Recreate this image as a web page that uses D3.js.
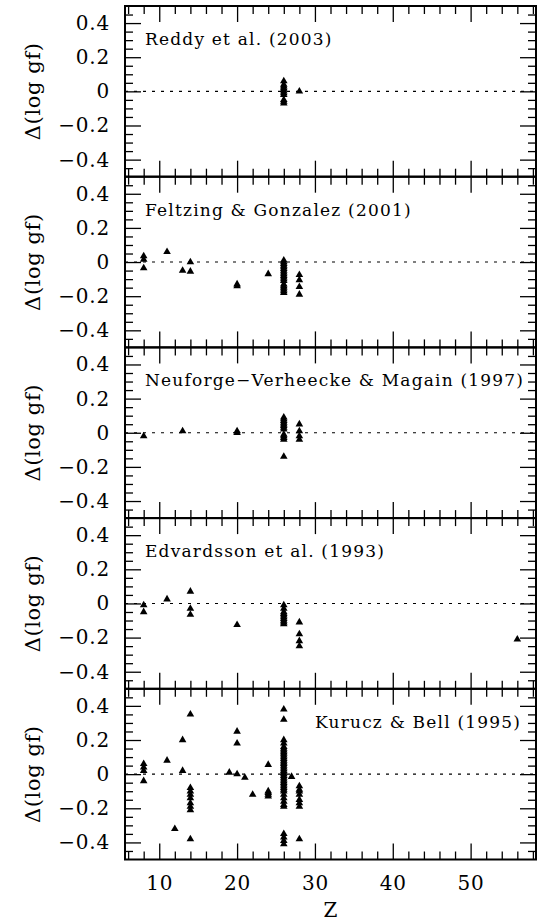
<!DOCTYPE html>
<html>
<head>
<meta charset="utf-8">
<script src="https://cdn.jsdelivr.net/npm/d3@7"></script>
<style>
  body { margin: 0; background: #fff; }
  text { font-family: "DejaVu Serif", serif; fill: #000; }
</style>
</head>
<body>
<div id="chart"></div>
<script>
// panel titles, top to bottom
const panelTitles = [
  'Reddy et al. (2003)',
  'Feltzing & Gonzalez (2001)',
  'Neuforge\u2212Verheecke & Magain (1997)',
  'Edvardsson et al. (1993)',
  'Kurucz & Bell (1995)'
];

// each panel: [Z, [delta log gf values]]
const reddy = [
  [26, [0.06, 0.04, 0.03, 0.02, 0.01, 0, -0.01, -0.02, -0.05, -0.06, -0.07]],
  [28, [0.0]]
];
const feltzing = [
  [8, [0.035, 0.015, -0.035]],
  [11, [0.06]],
  [13, [-0.05]],
  [14, [0.0, -0.055]],
  [20, [-0.13, -0.14]],
  [24, [-0.07]],
  [26, [0.01, 0, -0.01, -0.02, -0.03, -0.04, -0.05, -0.06, -0.07, -0.08, -0.09, -0.1, -0.11, -0.13, -0.14, -0.15, -0.16, -0.17, -0.18]],
  [28, [-0.075, -0.105, -0.145, -0.19]]
];
const neuforge = [
  [8, [-0.02]],
  [13, [0.01]],
  [20, [0.01, 0.0]],
  [26, [0.09, 0.08, 0.07, 0.06, 0.05, 0.04, 0.03, 0.02, -0.01, -0.02, -0.03, -0.04, -0.14]],
  [28, [0.05, 0.01, -0.02, -0.04]]
];
const edvardsson = [
  [8, [-0.01, -0.05]],
  [11, [0.025]],
  [14, [0.07, -0.03, -0.065]],
  [20, [-0.125]],
  [26, [-0.01, -0.03, -0.05, -0.06, -0.07, -0.08, -0.09, -0.1, -0.11, -0.12]],
  [28, [-0.11, -0.18, -0.22, -0.25]],
  [56, [-0.21]]
];
const kurucz = [
  [8, [0.06, 0.04, 0.02, -0.04]],
  [11, [0.08]],
  [12, [-0.32]],
  [13, [0.2, 0.02]],
  [14, [0.35, -0.08, -0.1, -0.12, -0.14, -0.17, -0.19, -0.21, -0.38]],
  [19, [0.01]],
  [20, [0.25, 0.18, 0.0]],
  [21, [-0.02]],
  [22, [-0.12]],
  [24, [0.055, -0.1, -0.11, -0.12, -0.13]],
  [26, [0.38, 0.32, 0.2, 0.18, 0.16, 0.15, 0.14, 0.13, 0.12, 0.11, 0.1, 0.09, 0.08, 0.07, 0.06, 0.05, 0.04, 0.03, 0.02, 0.01, 0, -0.01, -0.02, -0.03, -0.04, -0.05, -0.06, -0.07, -0.08, -0.09, -0.1, -0.12, -0.14, -0.16, -0.18, -0.19, -0.35, -0.37, -0.39, -0.41]],
  [27, [-0.015]],
  [28, [-0.07, -0.09, -0.1, -0.12, -0.15, -0.17, -0.19, -0.38]]
];
const panels = [reddy, feltzing, neuforge, edvardsson, kurucz];

const xMajor = [10, 20, 30, 40, 50];
const xMinor = [6, 8, 12, 14, 16, 18, 22, 24, 26, 28, 32, 34, 36, 38, 42, 44, 46, 48, 52, 54, 56, 58];
const yMajor = [-0.4, -0.2, 0, 0.2, 0.4];
const yMinor = [-0.45, -0.35, -0.3, -0.25, -0.15, -0.1, -0.05, 0.05, 0.1, 0.15, 0.25, 0.3, 0.35, 0.45];

const width = 542;
const height = 922;
const plotLeft = 125, plotRight = 536, plotTop = 6, plotBottom = 859.5;
const panelH = (plotBottom - plotTop) / panels.length;

const x = d3.scaleLinear().domain([5.6, 58.4]).range([plotLeft, plotRight]);
const y = d3.scaleLinear().domain([-0.5, 0.5]).range([panelH, 0]);

const fmt = d => d === 0 ? '0' : d3.format('.1f')(d).replace('-', '\u2212');

const svg = d3.select('#chart').append('svg')
  .attr('width', width)
  .attr('height', height);

const triangle = d3.symbol().type(d3.symbolTriangle).size(25);

panels.forEach((groups, i) => {
  const g = svg.append('g').attr('transform', `translate(0,${plotTop + i * panelH})`);
  const pts = groups.flatMap(([z, vals]) => vals.map(v => [z, v]));
  const last = i === panels.length - 1;

  // zero line
  g.append('line')
    .attr('x1', plotLeft).attr('x2', plotRight)
    .attr('y1', y(0)).attr('y2', y(0))
    .attr('stroke', '#000')
    .attr('stroke-width', 1.1)
    .attr('stroke-dasharray', '3,6');

  g.selectAll('path.pt')
    .data(pts)
    .join('path')
    .attr('class', 'pt')
    .attr('d', triangle)
    .attr('fill', '#000')
    .attr('transform', d => `translate(${x(d[0])},${y(d[1])})`);

  // ticks on four sides
  const axes = [
    d3.axisLeft(y).tickValues(yMinor).tickSize(-8).tickFormat(''),
    d3.axisRight(y).tickValues(yMinor).tickSize(-8).tickFormat(''),
    d3.axisRight(y).tickValues(yMajor).tickSize(-16).tickFormat('')
  ];
  axes.forEach((ax, k) => {
    const a = g.append('g')
      .attr('transform', k === 0 ? `translate(${plotLeft},0)` : `translate(${plotRight},0)`)
      .call(ax);
    a.select('.domain').remove();
  });

  const yl = g.append('g')
    .attr('transform', `translate(${plotLeft},0)`)
    .call(d3.axisLeft(y).tickValues(yMajor).tickSize(-16).tickPadding(15).tickFormat(fmt));
  yl.select('.domain').remove();
  yl.selectAll('text')
    .style('font-size', '20px')
    .style('font-family', '"DejaVu Serif", serif')
    .style('letter-spacing', '0.8px');

  [d3.axisTop(x).tickValues(xMinor).tickSize(-8),
   d3.axisTop(x).tickValues(xMajor).tickSize(-16)].forEach(ax => {
    const a = g.append('g').call(ax.tickFormat(''));
    a.select('.domain').remove();
  });

  g.append('g').attr('transform', `translate(0,${panelH})`)
    .call(d3.axisBottom(x).tickValues(xMinor).tickSize(-8).tickFormat(''))
    .select('.domain').remove();

  const xb = g.append('g').attr('transform', `translate(0,${panelH})`)
    .call(d3.axisBottom(x).tickValues(xMajor).tickSize(-16).tickPadding(16)
      .tickFormat(last ? d3.format('d') : ''));
  xb.select('.domain').remove();
  xb.selectAll('text')
    .style('font-size', '20px')
    .style('font-family', '"DejaVu Serif", serif')
    .style('letter-spacing', '0.8px');

  g.selectAll('.tick line').attr('stroke-width', 1.3);

  // frame
  g.append('rect')
    .attr('x', plotLeft).attr('y', 0)
    .attr('width', plotRight - plotLeft).attr('height', panelH)
    .attr('fill', 'none')
    .attr('stroke', '#000')
    .attr('stroke-width', 2);

  // titles
  g.append('text')
    .attr('x', i === 4 ? 315 : 145)
    .attr('y', 39)
    .style('font-size', '17px')
    .style('letter-spacing', '1.2px')
    .text(panelTitles[i]);

  g.append('text')
    .attr('transform', `translate(40,${panelH / 2}) rotate(-90)`)
    .attr('text-anchor', 'middle')
    .style('font-size', '21px')
    .style('letter-spacing', '0.6px')
    .text('\u0394(log gf)');
});

svg.append('text')
  .attr('x', (plotLeft + plotRight) / 2)
  .attr('y', 917)
  .attr('text-anchor', 'middle')
  .style('font-size', '20px')
  .text('Z');
</script>
</body>
</html>
